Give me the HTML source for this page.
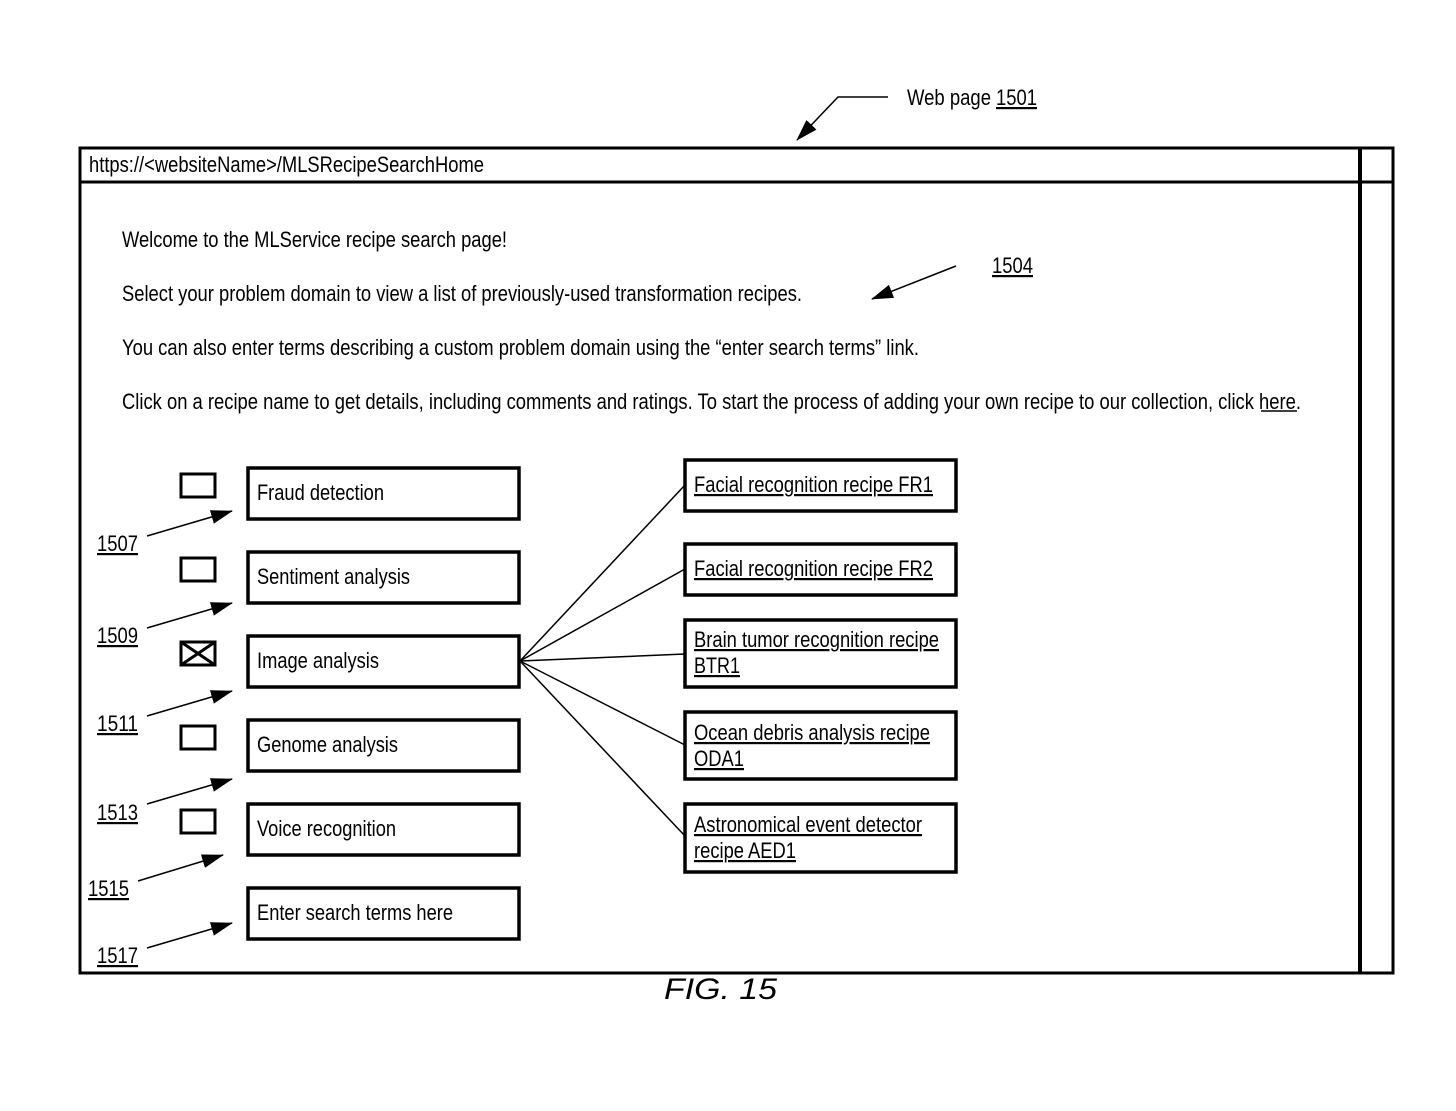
<!DOCTYPE html>
<html><head><meta charset="utf-8"><style>
html,body{margin:0;padding:0;background:#fff;}
svg{display:block;}
text{font-family:"Liberation Sans Narrow","Liberation Sans",sans-serif;font-size:22px;fill:#000;}
.u{text-decoration:underline;}
</style></head><body>
<svg width="1456" height="1111" viewBox="0 0 1456 1111" xmlns="http://www.w3.org/2000/svg">
<defs>
<marker id="ah2" markerWidth="22" markerHeight="14" refX="21" refY="7" orient="auto" markerUnits="userSpaceOnUse" viewBox="0 0 22 14">
<path d="M0,0 L22,7 L0,14 z" fill="#000"/></marker>
</defs>
<rect x="80" y="148" width="1313" height="825" fill="none" stroke="#000" stroke-width="3"/>
<line x1="80" y1="182" x2="1393" y2="182" stroke="#000" stroke-width="3"/>
<line x1="1360" y1="148" x2="1360" y2="973" stroke="#000" stroke-width="4"/>
<text x="89" y="172" textLength="395" lengthAdjust="spacingAndGlyphs">https://&lt;websiteName&gt;/MLSRecipeSearchHome</text>
<text x="907" y="105" textLength="84" lengthAdjust="spacingAndGlyphs">Web page</text>
<text x="996" y="105" class="u" textLength="41" lengthAdjust="spacingAndGlyphs">1501</text>
<polyline points="888,97 838,97 797,140" fill="none" stroke="#000" stroke-width="1.5" marker-end="url(#ah2)"/>
<text x="122" y="247" textLength="385" lengthAdjust="spacingAndGlyphs">Welcome to the MLService recipe search page!</text>
<text x="122" y="301" textLength="680" lengthAdjust="spacingAndGlyphs">Select your problem domain to view a list of previously-used transformation recipes.</text>
<text x="122" y="355" textLength="797" lengthAdjust="spacingAndGlyphs">You can also enter terms describing a custom problem domain using the “enter search terms” link.</text>
<text x="122" y="409" textLength="1179" lengthAdjust="spacingAndGlyphs">Click on a recipe name to get details, including comments and ratings. To start the process of adding your own recipe to our collection, click here.</text>
<line x1="1261" y1="411" x2="1297" y2="411" stroke="#000" stroke-width="1.5"/>
<text x="992" y="273" class="u" textLength="41" lengthAdjust="spacingAndGlyphs">1504</text>
<line x1="956" y1="266" x2="872" y2="299" stroke="#000" stroke-width="1.5" marker-end="url(#ah2)"/>
<g fill="none" stroke="#000" stroke-width="3">
<rect x="181" y="474" width="34" height="23"/>
<rect x="181" y="558" width="34" height="23"/>
<rect x="181" y="642" width="34" height="23"/>
<line x1="181" y1="642" x2="215" y2="665"/><line x1="215" y1="642" x2="181" y2="665"/>
<rect x="181" y="726" width="34" height="23"/>
<rect x="181" y="810" width="34" height="23"/>
</g>
<g fill="none" stroke="#000" stroke-width="3.5">
<rect x="248" y="468" width="271" height="51"/>
<rect x="248" y="552" width="271" height="51"/>
<rect x="248" y="636" width="271" height="51"/>
<rect x="248" y="720" width="271" height="51"/>
<rect x="248" y="804" width="271" height="51"/>
<rect x="248" y="888" width="271" height="51"/>
</g>
<text x="257" y="500" textLength="127" lengthAdjust="spacingAndGlyphs">Fraud detection</text>
<text x="257" y="584" textLength="153" lengthAdjust="spacingAndGlyphs">Sentiment analysis</text>
<text x="257" y="668" textLength="122" lengthAdjust="spacingAndGlyphs">Image analysis</text>
<text x="257" y="752" textLength="141" lengthAdjust="spacingAndGlyphs">Genome analysis</text>
<text x="257" y="836" textLength="139" lengthAdjust="spacingAndGlyphs">Voice recognition</text>
<text x="257" y="920" textLength="196" lengthAdjust="spacingAndGlyphs">Enter search terms here</text>
<text x="97" y="551" class="u" textLength="41" lengthAdjust="spacingAndGlyphs">1507</text>
<text x="97" y="643" class="u" textLength="41" lengthAdjust="spacingAndGlyphs">1509</text>
<text x="97" y="731" class="u" textLength="41" lengthAdjust="spacingAndGlyphs">1511</text>
<text x="97" y="820" class="u" textLength="41" lengthAdjust="spacingAndGlyphs">1513</text>
<text x="88" y="896" class="u" textLength="41" lengthAdjust="spacingAndGlyphs">1515</text>
<text x="97" y="963" class="u" textLength="41" lengthAdjust="spacingAndGlyphs">1517</text>
<g stroke="#000" stroke-width="1.5" marker-end="url(#ah2)">
<line x1="147" y1="536" x2="232" y2="511"/>
<line x1="147" y1="628" x2="232" y2="603"/>
<line x1="147" y1="716" x2="232" y2="691"/>
<line x1="147" y1="804" x2="232" y2="779"/>
<line x1="138" y1="881" x2="223" y2="855"/>
<line x1="147" y1="948" x2="232" y2="923"/>
</g>
<g stroke="#000" stroke-width="1.5">
<line x1="520" y1="661" x2="685" y2="485"/>
<line x1="520" y1="661" x2="685" y2="569"/>
<line x1="520" y1="661" x2="685" y2="654"/>
<line x1="520" y1="661" x2="685" y2="745"/>
<line x1="520" y1="661" x2="685" y2="836"/>
</g>
<g fill="none" stroke="#000" stroke-width="3.5">
<rect x="685" y="460" width="271" height="51"/>
<rect x="685" y="544" width="271" height="51"/>
<rect x="685" y="620" width="271" height="67"/>
<rect x="685" y="712" width="271" height="67"/>
<rect x="685" y="804" width="271" height="68"/>
</g>
<text x="694" y="492" class="u" textLength="239" lengthAdjust="spacingAndGlyphs">Facial recognition recipe FR1</text>
<text x="694" y="576" class="u" textLength="239" lengthAdjust="spacingAndGlyphs">Facial recognition recipe FR2</text>
<text x="694" y="647" class="u" textLength="245" lengthAdjust="spacingAndGlyphs">Brain tumor recognition recipe</text>
<text x="694" y="673" class="u" textLength="46" lengthAdjust="spacingAndGlyphs">BTR1</text>
<text x="694" y="740" class="u" textLength="236" lengthAdjust="spacingAndGlyphs">Ocean debris analysis recipe</text>
<text x="694" y="766" class="u" textLength="50" lengthAdjust="spacingAndGlyphs">ODA1</text>
<text x="694" y="832" class="u" textLength="228" lengthAdjust="spacingAndGlyphs">Astronomical event detector</text>
<text x="694" y="858" class="u" textLength="102" lengthAdjust="spacingAndGlyphs">recipe AED1</text>
<text x="664" y="999" style="font-family:'Liberation Sans',sans-serif;font-style:italic;font-size:30px" textLength="113" lengthAdjust="spacingAndGlyphs">FIG. 15</text>
</svg>
</body></html>
